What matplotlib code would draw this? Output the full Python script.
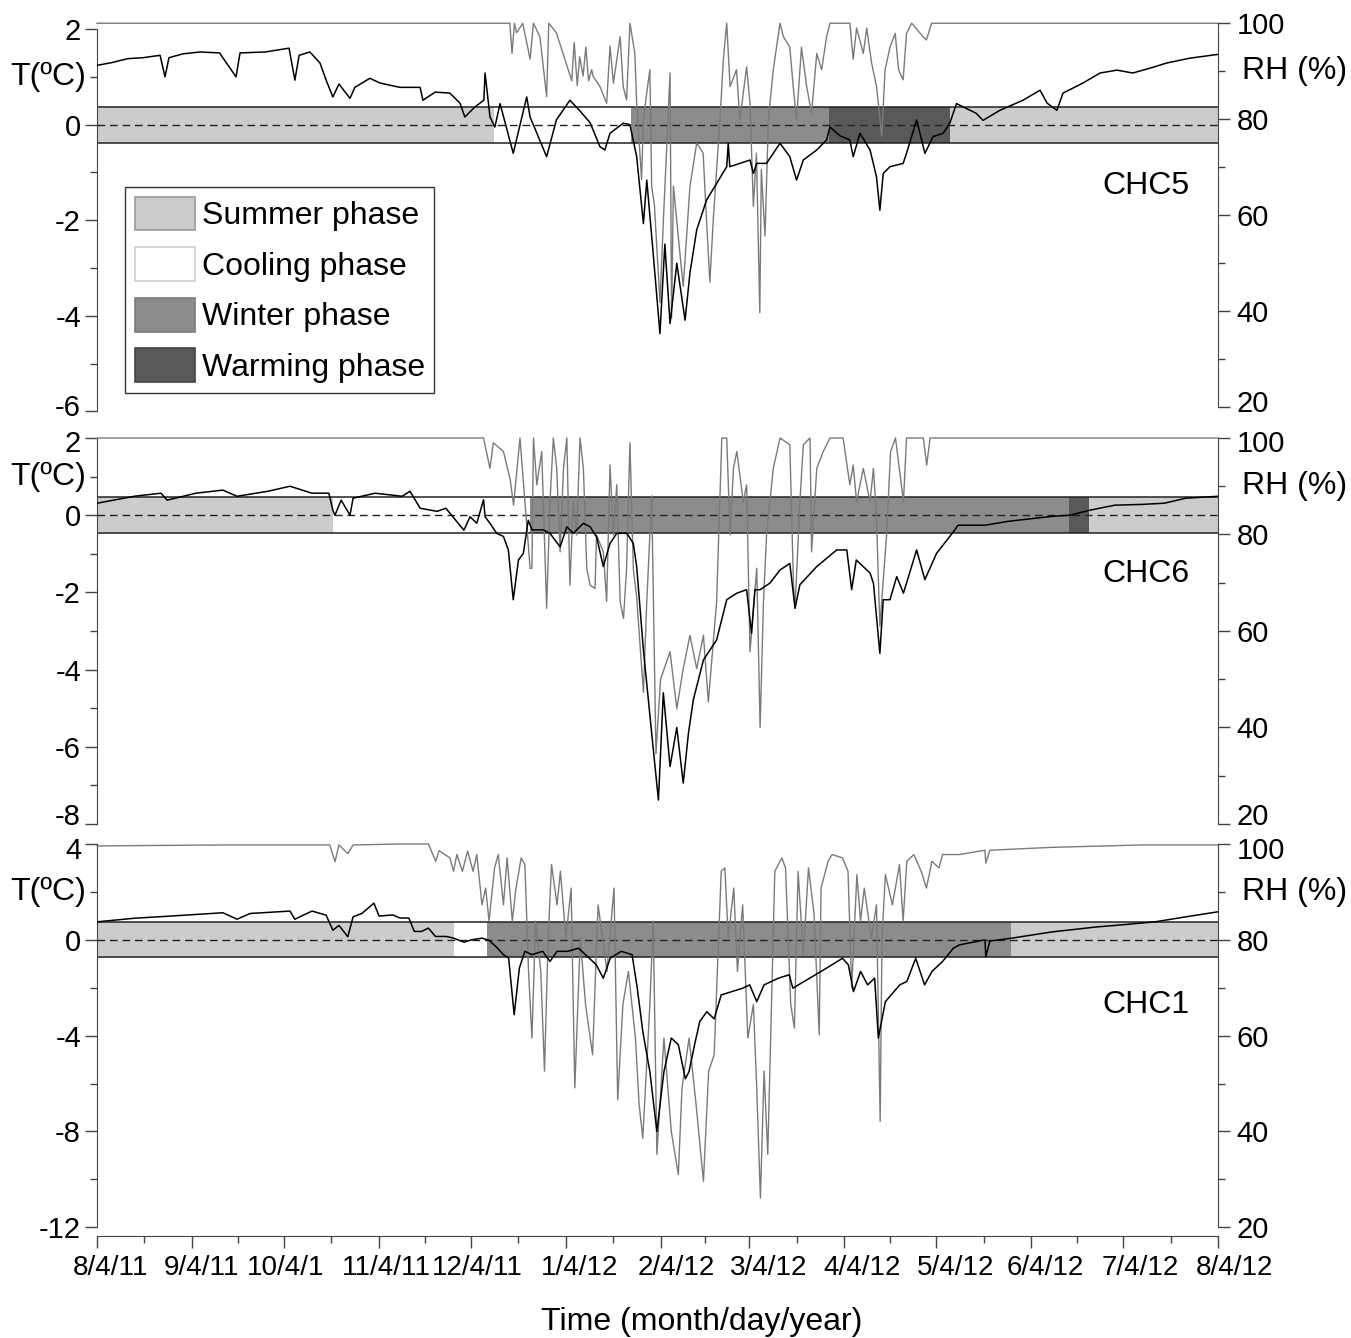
import numpy as np
import pandas as pd
import matplotlib
matplotlib.use("Agg")
import matplotlib.pyplot as plt
from matplotlib.patches import Patch
from matplotlib.ticker import FixedLocator
from matplotlib.transforms import ScaledTranslation

plt.rcParams['font.family'] = ['Liberation Sans', 'DejaVu Sans']
plt.rcParams['axes.unicode_minus'] = False

# x values: days since 8/4/11
month_labels = ["8/4/11", "9/4/11", "10/4/1", "11/4/11", "12/4/11", "1/4/12", "2/4/12",
                "3/4/12", "4/4/12", "5/4/12", "6/4/12", "7/4/12", "8/4/12"]

# ---- CHC5 ----
chc5_t_day = [0, 5, 10, 15, 20.6, 22.2, 23.5, 28, 33.6, 40, 45.4, 46.7, 55, 62.7, 64.6, 66, 69.5,
              72.8, 75, 77, 79, 82.6, 84.2, 89.1, 92.4, 98.9, 105.5, 106.4, 110.4, 115.2, 118.5,
              120.1, 123.4, 126.3, 126.7, 128.3, 129.9, 131.6, 135.9, 140.3, 141.4, 146.8, 150,
              154.4, 157.5, 161, 164.2, 165.8, 167.5, 171.8, 174, 176.2, 178.4, 179.5, 181.6,
              183.8, 185.4, 187.1, 189.3, 192, 193.6, 195.8, 199, 202.3, 205.6, 206.1, 206.6,
              213.2, 214.3, 215.4, 218.6, 220.8, 223, 226.2, 228.4, 230.6, 235, 238.2, 239.3,
              242.5, 245.8, 246.9, 249.1, 252.4, 254.5, 255.6, 256.7, 258.9, 263.2, 264.3, 267.6,
              270.3, 273, 276.3, 278.5, 280.6, 287, 289.3, 294.8, 302.3, 307.9, 310.2, 313.4,
              315.4, 321.9, 327.5, 333, 338.2, 344.8, 349.3, 356.8, 366]
chc5_t = [1.24, 1.3, 1.38, 1.4, 1.45, 1.0, 1.4, 1.48, 1.52, 1.5, 1.0, 1.5, 1.52, 1.6, 0.93, 1.45,
          1.52, 1.29, 0.9, 0.58, 0.85, 0.55, 0.78, 0.97, 0.87, 0.78, 0.78, 0.51, 0.68, 0.66, 0.45,
          0.16, 0.37, 0.51, 1.08, 0.16, -0.05, 0.44, -0.6, 0.58, 0.16, -0.67, 0.1, 0.51, 0.3,
          0.04, -0.46, -0.53, -0.18, 0.03, 0.0, -0.67, -2.07, -1.16, -2.7, -4.37, -2.5, -4.16,
          -2.9, -4.09, -3.1, -2.2, -1.58, -1.23, -0.88, -0.39, -0.88, -0.74, -1.02, -0.81,
          -0.81, -0.6, -0.39, -0.67, -1.16, -0.74, -0.53, -0.32, -0.05, -0.23, -0.32, -0.67,
          -0.18, -0.53, -1.09, -1.79, -1.02, -0.88, -0.81, -0.6, 0.1, -0.6, -0.25, -0.18, 0.04,
          0.44, 0.24, 0.09, 0.3, 0.51, 0.72, 0.45, 0.3, 0.66, 0.87, 1.08, 1.14, 1.08, 1.2, 1.29,
          1.39, 1.47]
chc5_rh_day = [0, 134.8, 135.5, 136.3, 137, 139, 141.4, 142.5, 144.6, 146.8, 147.5, 150, 155,
               155.8, 156.8, 157.6, 158.7, 159.6, 160.5, 161.5, 162, 164.2, 166.4, 167.5, 168.6,
               170.8, 171.8, 172.9, 174, 175.6, 176.2, 177.8, 178.4, 179.5, 180.5, 181.1, 182,
               183.8, 185, 187.1, 187.6, 188.2, 190.3, 191.4, 193.6, 195.8, 197.9, 199, 200.1,
               201.2, 203.4, 204.5, 205.6, 206.7, 208.8, 209.9, 212.1, 213.2, 214.3, 215.3, 216.4,
               216.9, 218.1, 219.2, 220.8, 223, 224.1, 226.2, 227.3, 228.4, 230, 231.7, 233.3,
               235, 236.6, 238.2, 239.3, 245.8, 246.9, 248, 250.2, 251.3, 252.9, 254.5, 255.1,
               256.2, 257.3, 258.9, 260.6, 261.7, 263.2, 264.3, 266, 269.7, 270.8, 272.5, 366]
chc5_rh = [100, 100, 93.7, 100, 98, 100, 92.5, 100, 97.2, 84.7, 100, 98, 88, 96, 87, 93, 89, 95,
           88, 90.3, 88.9, 86.8, 83.3, 95.2, 87.5, 97.2, 86.8, 84, 100, 93.7, 83.3, 67.4, 79.9,
           85.5, 90.3, 66, 62, 41.7, 60, 89.6, 38.5, 66, 52.1, 45.1, 66, 75, 72.9, 59, 46, 59,
           79.9, 92.5, 100, 86.8, 90.3, 79.9, 90.9, 83.3, 61.8, 72.9, 39.6, 69.5, 55.6, 79.9,
           90.3, 100, 97.2, 95, 86.8, 79.9, 95, 86.8, 81.2, 93.7, 90.3, 97.2, 100, 100, 92.5, 99,
           93.7, 99, 91.7, 86.8, 83.3, 76.4, 90.3, 95, 97.9, 90.3, 88.2, 97.9, 100, 97.2, 96.5,
           100, 100]
chc5_edges = [0, 129.6, 174.3, 239, 278.5, 366]
chc5_phases = ["summer", "cooling", "winter", "warming", "summer"]

# ---- CHC6 ----
chc6_t_day = [0, 12.1, 20.9, 22.9, 32.3, 41.1, 45.7, 55.8, 63, 70.2, 75.7, 77, 77.7, 79.7, 82.6,
              83.6, 90.8, 99.6, 102.2, 105.5, 111, 113.9, 119.8, 121.8, 124, 126.2, 126.7, 128.3,
              130.5, 132.7, 134.3, 135.9, 137.6, 139.2, 140.8, 142, 145.7, 147.9, 151.2, 153.4,
              155.5, 158.8, 161, 163.1, 165.3, 167.5, 169.7, 173, 175.1, 176.2, 178.4, 181.1,
              183.3, 184.9, 187.1, 189.3, 191.4, 193.1, 194.7, 198, 202.3, 205.6, 208.9, 212.1,
              213.7, 214.8, 216.5, 219.7, 223, 226.2, 227.9, 229.5, 235, 241.5, 244.8, 246.4,
              247.9, 252.4, 253.5, 255.6, 256.7, 258.9, 261.1, 263.3, 267.6, 270.3, 274.1, 279.8,
              281.1, 289.9, 297.4, 311.8, 317.7, 324.2, 332.3, 341.2, 348.4, 355.5, 366]
chc6_t = [0.31, 0.49, 0.57, 0.39, 0.57, 0.65, 0.49, 0.62, 0.75, 0.57, 0.57, 0.13, 0.0, 0.39, 0.0,
          0.44, 0.57, 0.49, 0.62, 0.18, 0.1, 0.18, -0.39, -0.04, -0.21, 0.4, -0.04, -0.21, -0.47,
          -0.55, -0.9, -2.19, -1.16, -0.99, -0.13, -0.38, -0.38, -0.47, -0.82, -0.3, -0.47,
          -0.21, -0.3, -0.56, -1.33, -0.73, -0.47, -0.47, -0.73, -1.33, -3.49, -5.65, -7.38,
          -4.6, -6.51, -5.5, -6.94, -5.65, -4.78, -3.75, -3.23, -2.19, -2.02, -1.93, -3.06,
          -1.93, -1.93, -1.76, -1.42, -1.25, -2.41, -1.8, -1.33, -0.9, -0.9, -1.93, -1.16, -1.5,
          -1.76, -3.58, -2.19, -2.19, -1.59, -2.02, -0.9, -1.67, -0.99, -0.41, -0.26, -0.26,
          -0.16, -0.03, 0.0, 0.13, 0.26, 0.28, 0.31, 0.44, 0.49]
chc6_rh_day = [0, 126.2, 128.3, 129.4, 132.7, 134.9, 136, 138.1, 141.4, 142, 142.5, 143.6, 145.2,
               146.8, 147.9, 149, 150.1, 151.2, 152.3, 153.4, 154.4, 155.5, 156.6, 157.7, 158.8,
               159.9, 161, 162.6, 163.1, 165.3, 166.4, 167.5, 168.6, 169.7, 170.8, 171.9, 172.9,
               174, 175.1, 176.2, 178.4, 179.5, 181.1, 182.5, 184, 187.1, 189.3, 191.4, 193.6,
               195.8, 198, 199.6, 202.3, 204, 205.6, 206.7, 207.8, 208.9, 211, 212.1, 213.2, 215.4,
               216.5, 217.6, 218.6, 220.8, 223, 226.2, 227.4, 227.9, 229.5, 230.6, 232.8, 233.3,
               235, 237.1, 239.3, 243.6, 245.8, 246.9, 248, 250.2, 252.4, 253.5, 254.5, 255.6,
               257.8, 259.1, 260.7, 263.3, 264.3, 269.8, 270.9, 272, 366]
chc6_rh = [100, 100, 93.7, 99, 97.2, 91.4, 86.1, 100, 73, 73, 100, 90.3, 97.2, 64.7, 86.8, 100,
           93.7, 76.4, 93.7, 100, 69.5, 86.8, 79.9, 100, 93.7, 73, 69.5, 68.8, 79.9, 76.4, 66.1,
           94.4, 79.9, 90.3, 66.1, 62.6, 73, 99, 73, 67, 47.3, 66.1, 88, 34.6, 50, 55.7, 43.9,
           52.2, 59.1, 52.2, 59.1, 45.3, 66.1, 100, 100, 79.9, 93.7, 97.2, 86.8, 90.3, 55.7, 73,
           40, 66.1, 79.9, 93.7, 100, 98.6, 69.5, 64.7, 86.8, 98.6, 100, 76.4, 93.7, 97.2, 100,
           100, 90.3, 94.4, 86.8, 93.7, 86.8, 93.7, 83.3, 61, 79.9, 97.2, 100, 86.8, 100, 100,
           94.4, 100, 100]
chc6_edges = [0, 77, 141.4, 317.3, 324, 366]
chc6_phases = ["summer", "cooling", "winter", "warming", "summer"]

# ---- CHC1 ----
chc1_t_day = [0, 12.1, 23.8, 41.1, 45.7, 50, 63, 64.6, 70.2, 74.8, 77, 79, 81.9, 83.6, 86.5, 90.4,
              92.1, 96.6, 98.9, 101.8, 103.6, 106, 108.2, 110.5, 114.1, 116.4, 119.9, 122.2, 125.7,
              128, 130.4, 132.7, 134.4, 136.2, 137.9, 139.7, 142, 145.5, 147.9, 150.2, 153.7,
              157.2, 159.5, 163, 165.3, 167.6, 171.2, 174.7, 176.4, 178.2, 180.5, 182.8, 185.1,
              187.5, 189.8, 192.1, 193.3, 195.1, 196.8, 199.1, 201.5, 203.8, 210.8, 213.1, 215.4,
              217.8, 222.5, 226, 227.2, 229, 236.4, 243.4, 245.3, 247, 249.3, 251.6, 253.9, 255.1,
              257.4, 262.1, 264.4, 267.3, 270.2, 272.6, 276.1, 279.6, 281.6, 289.9, 290.2, 291.5,
              298.7, 311.8, 326.5, 332.3, 345.4, 355.5, 366]
chc1_t = [0.75, 0.9, 0.99, 1.13, 0.86, 1.1, 1.2, 0.86, 1.2, 1.03, 0.4, 0.6, 0.13, 0.96, 1.1, 1.53,
          0.99, 1.04, 0.91, 0.91, 0.35, 0.35, 0.49, 0.14, 0.14, 0.07, -0.1, 0.0, 0.07, -0.02,
          -0.3, -0.62, -0.76, -3.13, -1.18, -0.48, -0.62, -0.48, -0.9, -0.48, -0.48, -0.35,
          -0.62, -1.04, -1.6, -0.76, -0.48, -0.62, -2.02, -3.83, -5.5, -8.0, -5.5, -4.1, -4.38,
          -5.8, -5.5, -4.38, -3.41, -3.0, -3.3, -2.3, -2.02, -1.88, -2.58, -1.88, -1.6, -1.46,
          -2.02, -1.88, -1.32, -0.77, -1.04, -2.16, -1.32, -1.88, -1.6, -4.1, -2.58, -1.88,
          -1.74, -0.77, -1.88, -1.32, -0.9, -0.35, -0.21, 0.0, -0.71, -0.05, 0.07, 0.33, 0.54,
          0.6, 0.75, 0.96, 1.17]
chc1_rh_day = [0, 41.1, 76, 77.7, 79, 81.9, 83.6, 98.9, 104.7, 108.2, 110.6, 111.7, 115.2, 116.4,
               117.5, 119.3, 121, 122.8, 124, 125.7, 126.9, 128, 129.8, 131, 132.7, 133.9, 135.6,
               136.8, 138.5, 139.7, 140.9, 142, 143.2, 144.9, 146.1, 147.3, 148.4, 150.2, 151.3,
               153.1, 154.8, 156, 157.8, 159.5, 161.8, 163.6, 166.5, 168.8, 170, 171.7, 173.5,
               175.8, 177, 178.2, 180.5, 181.6, 182.8, 185.1, 187.5, 189.8, 191, 193.3, 195.6,
               198, 199.7, 201.5, 203.8, 205, 206.1, 207.9, 209.1, 210.8, 212.5, 214.3, 215.4,
               216.6, 217.8, 219, 221.3, 223.6, 224.8, 226.5, 227.7, 228.9, 230.6, 232.3, 234.1,
               235.8, 236.4, 238.7, 240, 243.4, 245.2, 246.4, 248.1, 249.3, 250.5, 252.8, 254.5,
               255.7, 256.3, 257.4, 259.7, 262, 263.2, 264.4, 266.7, 269.1, 270.8, 272.6, 274.9,
               276.1, 281.6, 289.9, 290.2, 291.5, 311.8, 341.2, 366]
chc1_rh = [99.6, 99.8, 99.8, 96.3, 99.8, 98, 99.8, 100, 100, 100, 96.4, 98.6, 97.1, 94.3, 97.8,
           94.3, 98.5, 94.3, 97.8, 87.3, 90.8, 83.9, 95, 97.8, 87.3, 97.1, 83.9, 90.8, 97.1, 95.7,
           73.4, 59.5, 83.9, 73.4, 52.6, 80.4, 95.7, 87.3, 94.3, 80.4, 90.8, 49.1, 80.4, 66.5,
           56, 87.3, 73.4, 90.8, 46.6, 66.5, 73.4, 59.5, 45.6, 38.6, 66.5, 83.9, 35.2, 59.5, 40,
           31, 49.1, 59.5, 45.6, 29.6, 52.6, 56, 94.3, 95, 80.4, 90.8, 73.4, 87.3, 59.5, 66.5,
           49.1, 26.1, 52.6, 35.2, 94.3, 97.1, 95, 66.5, 61.6, 94.3, 76.9, 95, 85.5, 60.2, 90.8,
           96.4, 97.8, 97.1, 94.3, 70, 93.6, 83.9, 90.8, 80.4, 87.3, 42.1, 80.4, 93.6, 87.3,
           95.7, 83.9, 96.4, 97.8, 94.3, 90.8, 96.4, 95, 97.8, 97.8, 98.7, 96, 98.7, 99.3, 99.8,
           99.8]
chc1_edges = [0, 116.4, 127.3, 298.3, 366]
chc1_phases = ["summer", "cooling", "winter", "summer"]

phase_colors = {"summer": "#cccccc", "cooling": "white", "winter": "#8c8c8c", "warming": "#595959"}
phase_edges = {"summer": "#9a9a9a", "cooling": "#cfcfcf", "winter": "#7a7a7a", "warming": "#444444"}
phase_names = {"summer": "Summer phase", "cooling": "Cooling phase",
               "winter": "Winter phase", "warming": "Warming phase"}

W, H = 1351, 1338
fig = plt.figure(figsize=(W / 100, H / 100), dpi=100)

start = pd.Timestamp("2011-08-04")
month_ticks = [(d - start).days for d in pd.date_range(start, periods=13, freq=pd.DateOffset(months=1))]
minor_ticks = [(a + b) / 2 for a, b in zip(month_ticks[:-1], month_ticks[1:])]
label_shift = [13, 10, 2, 8, 7, 14, 16, 19, 18, 19, 14, 17, 16]

x_left, x_right = 97, 1218


def shift(label, dx_px, dy_px):
    label.set_transform(label.get_transform() +
                        ScaledTranslation(dx_px / 100, dy_px / 100, fig.dpi_scale_trans))


def draw_panel(top_px, bot_px, t_day, t_val, rh_day, rh_val, edges, phases, t_lim, t_top,
               t_major, rh_lim, band, name, name_y, t_label_y, nudge_top=0, nudge_bot=0,
               bottom=False):
    rect = [x_left / W, 1 - bot_px / H, (x_right - x_left) / W, (bot_px - top_px) / H]
    ax = fig.add_axes(rect)
    axr = ax.twinx()
    axt = ax.twinx()
    for a in (ax, axr, axt):
        a.set_xlim(0, 366)
    ax.set_ylim(*t_lim)
    axt.set_ylim(*t_lim)
    axr.set_ylim(*rh_lim)

    # phase bands
    for i, ph in enumerate(phases):
        if ph != "cooling":
            ax.fill_between([edges[i], edges[i + 1]], -band, band, color=phase_colors[ph], lw=0)
    ax.axhline(band, color="#222222", lw=1.1)
    ax.axhline(-band, color="#222222", lw=1.1)
    ax.axhline(0, color="#222222", lw=1.0, ls=(0, (5.5, 3.5)))

    axr.plot(rh_day, rh_val, color="#7a7a7a", lw=1.0, clip_on=False)
    axt.plot(t_day, t_val, color="black", lw=1.1)

    # spines
    for s in ("top", "right", "bottom"):
        ax.spines[s].set_visible(False)
    ax.spines["left"].set_bounds(t_lim[0], t_top)
    ax.spines["left"].set_color("#444444")
    for s in ("top", "left", "bottom"):
        axr.spines[s].set_visible(False)
    axr.spines["right"].set_bounds(20, 100)
    axr.spines["right"].set_color("#444444")
    for s in axt.spines.values():
        s.set_visible(False)
    axt.set_yticks([])

    ax.yaxis.set_major_locator(FixedLocator(np.arange(t_lim[0], t_top + 0.1, t_major)))
    ax.yaxis.set_minor_locator(FixedLocator(np.arange(t_lim[0], t_top + 0.1, t_major / 2)))
    ax.tick_params(axis="y", which="major", length=8.5, width=1, color="#444444",
                   labelsize=21, pad=3)
    ax.tick_params(axis="y", which="minor", length=5, width=1, color="#444444")
    axr.yaxis.set_major_locator(FixedLocator([20, 40, 60, 80, 100]))
    axr.yaxis.set_minor_locator(FixedLocator([30, 50, 70, 90]))
    axr.tick_params(axis="y", which="major", length=8.5, width=1, color="#444444",
                    labelsize=21, pad=5)
    axr.tick_params(axis="y", which="minor", length=5, width=1, color="#444444")

    for labels in (ax.get_yticklabels(), axr.get_yticklabels()):
        shift(labels[0], 0, nudge_bot)
        shift(labels[-1], 0, nudge_top)

    if bottom:
        ax.spines["bottom"].set_visible(True)
        ax.spines["bottom"].set_position(("outward", 6.5))
        ax.spines["bottom"].set_bounds(0, 366)
        ax.spines["bottom"].set_color("#444444")
        ax.set_xticks(month_ticks)
        ax.set_xticks(minor_ticks, minor=True)
        ax.set_xticklabels(month_labels)
        ax.tick_params(axis="x", which="major", length=8.5, width=1, color="#444444",
                       labelsize=20, pad=5)
        ax.tick_params(axis="x", which="minor", length=5, width=1, color="#444444")
        for lab, dx in zip(ax.get_xticklabels(), label_shift):
            shift(lab, dx, 0)
    else:
        ax.set_xticks([])

    axt.text(-0.0776, t_label_y, "T(ºC)", transform=ax.get_yaxis_transform(),
             ha="left", va="center", fontsize=23)
    axt.text(1.0214, 90, "RH (%)", transform=axr.get_yaxis_transform(),
             ha="left", va="center", fontsize=23)
    axt.text(0.975, name_y, name, transform=ax.get_yaxis_transform(),
             ha="right", va="center", fontsize=23)
    return ax, axt


ax1, axt1 = draw_panel(23, 411.5, chc5_t_day, chc5_t, chc5_rh_day, chc5_rh, chc5_edges, chc5_phases,
                       (-6, 2.126), 2, 2, (19.0, 100.05), 0.377, "CHC5", -1.29, 1,
                       nudge_top=0, nudge_bot=6)
draw_panel(438, 824, chc6_t_day, chc6_t, chc6_rh_day, chc6_rh, chc6_edges, chc6_phases,
           (-8, 2), 2, 2, (20, 100), 0.47, "CHC6", -1.53, 1, nudge_top=-3, nudge_bot=10)
draw_panel(844, 1227.3, chc1_t_day, chc1_t, chc1_rh_day, chc1_rh, chc1_edges, chc1_phases,
           (-12, 4), 4, 4, (20, 100), 0.73, "CHC1", -2.73, 2, nudge_top=-4, nudge_bot=0,
           bottom=True)

handles = [Patch(facecolor=phase_colors[p], edgecolor=phase_edges[p], lw=1.2, label=phase_names[p])
           for p in ("summer", "cooling", "winter", "warming")]
leg = axt1.legend(handles=handles, loc="upper left", bbox_to_anchor=(0.025, 0.578),
                  borderaxespad=0, fontsize=23, frameon=True, fancybox=False,
                  edgecolor="black", handlelength=1.9, handleheight=1.25,
                  handletextpad=0.2, labelspacing=0.5, borderpad=0.3)
leg.get_frame().set_linewidth(1.0)

fig.text(702 / W, 1 - 1322 / H, "Time (month/day/year)", ha="center", va="center", fontsize=23)

fig.savefig("out.png", dpi=100)
